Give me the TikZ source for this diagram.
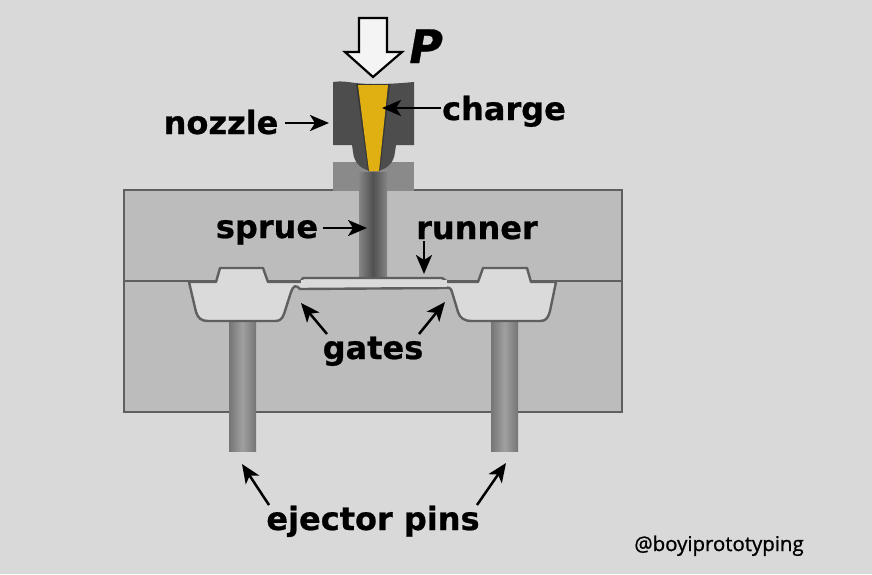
\documentclass[tikz,border=0pt]{standalone}
\usepackage{fontspec}
\setmainfont{DejaVu Sans}
\newfontfamily\labfont[FakeBold=0.7]{DejaVu Sans Bold}
\newfontfamily\pfont[FakeBold=0.7,FakeSlant=0.18]{DejaVu Sans Bold}
\newfontfamily\markfont[FakeBold=1]{Open Sans}
\usetikzlibrary{arrows.meta}
\definecolor{bgc}{HTML}{D9D9D9}
\definecolor{moldc}{HTML}{BCBCBC}
\definecolor{linec}{HTML}{5F5F5F}
\definecolor{cavc}{HTML}{DADADA}
\definecolor{bushc}{HTML}{8A8A8A}
\definecolor{nozc}{HTML}{4D4D4D}
\definecolor{nozd}{HTML}{363636}
\definecolor{chargec}{HTML}{E0B012}
\definecolor{pinedge}{HTML}{757575}
\definecolor{pinmid}{HTML}{A0A0A0}
\definecolor{spredge}{HTML}{858585}
\definecolor{sprmid}{HTML}{505050}
\tikzset{
  mold/.style={fill=moldc,draw=linec,line width=2.4pt},
  lab/.style={font=\labfont\fontsize{32}{32}\selectfont,text=black,inner sep=3pt,anchor=base},
  arr/.style={-{Stealth[length=19pt,width=16pt,inset=5pt]},line width=2.5pt,black},
  pin/.style={left color=pinedge,right color=pinedge,middle color=pinmid},
  sprueshade/.style={left color=spredge,right color=spredge,middle color=sprmid}
}
\begin{document}
\begin{tikzpicture}[x=1pt,y=-1pt]
\useasboundingbox (0,0) rectangle (872,574);
\fill[bgc] (0,0) rectangle (872,574);
% mold halves
\draw[mold] (124,190) rectangle (622,281);
\draw[mold] (124,281) rectangle (622,412);
% bushing and sprue
\fill[bushc] (333,162) rectangle (414,191);
\shade[sprueshade] (359,172) rectangle (387,279);
% pins
\shade[pin] (229,318) rectangle (256,451);
\shade[pin] (491,318) rectangle (518,451);
% cavity
\draw[line width=2.4pt,draw=linec,fill=cavc,line join=round]
  (189,282) -- (216,282) -- (220,268) -- (263,268) -- (268,282) -- (300,282)
  -- (303,278) -- (442,278) -- (448,282) -- (478,282) -- (483,268) -- (527,268)
  -- (531,282) -- (556,282) -- (550,311) .. controls (548,318) and (546,321) .. (540,321)
  -- (472,321) .. controls (464,321) and (460,318) .. (458,312) -- (452,292)
  .. controls (451,288) and (449,287) .. (445,288) -- (300,289)
  .. controls (296,284) and (293,286) .. (291,292) -- (284,314)
  .. controls (282,319) and (280,321) .. (275,321) -- (208,321)
  .. controls (201,321) and (198,318) .. (196,312) -- cycle;
\fill[cavc] (301,280) rectangle (447,287);
% nozzle
\fill[nozc] (333,82) .. controls (345,80) and (352,84) .. (373,84)
  .. controls (393,84) and (402,83) .. (414,82) -- (414,145) -- (396,145) -- (395,152)
  .. controls (394,164) and (385,171) .. (374,171) .. controls (363,171) and (354,164) .. (353,152)
  -- (352,145) -- (333,145) -- cycle;
\fill[nozd] (356,84) -- (390,84) -- (380,171) -- (368,171) -- cycle;
\fill[chargec] (358,85) -- (388,85) -- (379,171) -- (369,171) -- cycle;
% press arrow
\draw[line width=2.2pt,black,fill=white!70!bgc,line join=miter]
  (359,18) -- (387,18) -- (387,52) -- (402,52) -- (373,77) -- (345,52) -- (359,52) -- cycle;
% labels
\node[font=\pfont\fontsize{46}{46}\selectfont,inner sep=0pt,anchor=base] (p) at (423,63) {P};
\node[lab] (nozzle) at (221,134) {nozzle};
\node[lab] (charge) at (504,120) {charge};
\node[lab] (sprue) at (267,238) {sprue};
\node[lab] (runner) at (477,239) {runner};
\node[lab] (gates) at (373,359) {gates};
\node[lab] (ejector) at (373,530) {ejector pins};
\node[font=\markfont\fontsize{20.4}{20.4}\selectfont,inner sep=0pt,anchor=base,text=black] (mark) at (719,551) {@boyiprototyping};
% arrow targets
\coordinate (tnozzle) at (329,123);
\coordinate (snozzle) at (285,123);
\coordinate (tcharge) at (382,108);
\coordinate (scharge) at (441,108);
\coordinate (tsprue) at (367,228);
\coordinate (ssprue) at (323,228);
\coordinate (srunner) at (424,241);
\coordinate (trunner) at (424,274);
\coordinate (sgl) at (327,334);
\coordinate (tgl) at (301,303);
\coordinate (sgr) at (419,334);
\coordinate (tgr) at (445,302);
\coordinate (sel) at (269,505);
\coordinate (tel) at (242,464);
\coordinate (ser) at (477,505);
\coordinate (ter) at (506,463);
\draw[arr] (snozzle) -- (tnozzle);
\draw[arr] (scharge) -- (tcharge);
\draw[arr] (ssprue) -- (tsprue);
\draw[arr] (srunner) -- (trunner);
\draw[arr] (sgl) -- (tgl);
\draw[arr] (sgr) -- (tgr);
\draw[arr] (sel) -- (tel);
\draw[arr] (ser) -- (ter);
\end{tikzpicture}
\end{document}
